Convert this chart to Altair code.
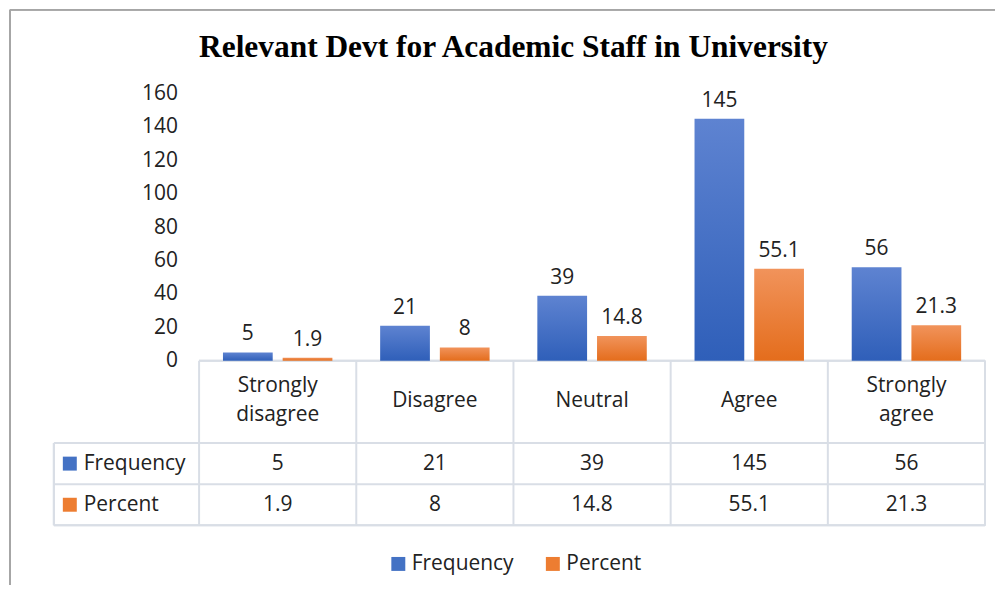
import altair as alt
import pandas as pd

# ---------------- data ----------------
CATS = ["Strongly disagree", "Disagree", "Neutral", "Agree", "Strongly agree"]
SERIES = ["Frequency", "Percent"]
FREQUENCY = [5, 21, 39, 145, 56]
PERCENT = [1.9, 8, 14.8, 55.1, 21.3]
Y_TICKS = [0, 20, 40, 60, 80, 100, 120, 140, 160]
TITLE = "Relevant Devt for Academic Staff in University"

ROWHEAD = "rowhead"          # left column of the data table
ROWS = ["h1", "h2"] + SERIES  # two bands for the header row, then the data rows

long_df = pd.DataFrame({
    "cat": CATS * 2,
    "series": ["Frequency"] * len(CATS) + ["Percent"] * len(CATS),
    "value": FREQUENCY + PERCENT,
})
cats_df = pd.DataFrame({"cat": CATS})
series_df = pd.DataFrame({"series": SERIES})

# ---------------- style ----------------
W, H = 934, 433
BAR_H = 268
FONT = "Open Sans"
TEXT = "#222222"
GRID = "#d9dee6"
FRAME = "#a6a6a6"
BLUE, ORANGE = "#4472C4", "#ED7D31"
FS = 21


def grad(top, bottom):
    return alt.Gradient(
        gradient="linear", x1=0, x2=0, y1=0, y2=1,
        stops=[alt.GradientStop(color=top, offset=0),
               alt.GradientStop(color=bottom, offset=1)],
    )


x_scale = alt.Scale(domain=[ROWHEAD] + CATS, range=[-12, W], paddingInner=0, paddingOuter=0)
xo_scale = alt.Scale(domain=SERIES, paddingInner=1 / 6, paddingOuter=0.4)
y_scale = alt.Scale(domain=[0, 160], range=[BAR_H, 0], nice=False, zero=True)
row_scale = alt.Scale(domain=ROWS, range=[BAR_H, H], paddingInner=0, paddingOuter=0)

X_CAT = alt.X("cat:N", scale=x_scale, axis=None)
XO = alt.XOffset("series:N", scale=xo_scale)

# ---------------- bars ----------------
bars_f = alt.Chart(long_df).transform_filter(alt.datum.series == "Frequency").mark_bar(
    color=grad("#5e83d1", "#2f5fb9")
).encode(
    x=X_CAT, xOffset=XO,
    y=alt.Y("value:Q", scale=y_scale, stack=None,
            axis=alt.Axis(values=Y_TICKS, offset=-146, domain=False, ticks=False, grid=False,
                          labelPadding=22, labelFont=FONT, labelFontSize=FS,
                          labelColor=TEXT, title=None)),
)
bars_p = alt.Chart(long_df).transform_filter(alt.datum.series == "Percent").mark_bar(
    color=grad("#f1935b", "#e46d1c")
).encode(
    x=X_CAT, xOffset=XO,
    y=alt.Y("value:Q", scale=y_scale, stack=None, axis=None),
)
bar_labels = alt.Chart(long_df).mark_text(
    baseline="alphabetic", dy=-12, font=FONT, fontSize=FS, color=TEXT
).encode(
    x=X_CAT, xOffset=XO,
    y=alt.Y("value:Q", scale=y_scale, stack=None, axis=None),
    text=alt.Text("value:Q", format="~g"),
)

# ---------------- data table ----------------
two_line = "indexof(datum.cat, ' ') >= 0"
header_two = alt.Chart(cats_df).transform_filter(two_line).mark_text(
    lineBreak=" ", lineHeight=29, font=FONT, fontSize=FS, color=TEXT, baseline="middle", dy=5
).encode(
    x=X_CAT,
    y=alt.YDatum("h1", type="nominal", scale=row_scale, axis=None),
    text="cat:N",
)
header_one = alt.Chart(cats_df).transform_filter("!(" + two_line + ")").mark_text(
    font=FONT, fontSize=FS, color=TEXT, baseline="middle", dy=20
).encode(
    x=X_CAT,
    y=alt.YDatum("h1", type="nominal", scale=row_scale, axis=None),
    text="cat:N",
)
value_txt = alt.Chart(long_df).mark_text(
    font=FONT, fontSize=FS, color=TEXT, baseline="middle"
).encode(
    x=X_CAT,
    y=alt.Y("series:N", scale=row_scale, axis=None),
    text=alt.Text("value:Q", format="~g"),
)
row_squares = alt.Chart(series_df).mark_point(
    shape="square", filled=True, size=196, opacity=1, xOffset=28
).encode(
    x=alt.XDatum(ROWHEAD, type="nominal", scale=x_scale, axis=None, bandPosition=0),
    y=alt.Y("series:N", scale=row_scale, axis=None),
    color=alt.Color(
        "series:N",
        scale=alt.Scale(domain=SERIES, range=[BLUE, ORANGE]),
        legend=alt.Legend(
            title=None, orient="none", direction="horizontal", legendX=335, legendY=461,
            symbolType="square", symbolSize=196, symbolStrokeWidth=0,
            labelFont=FONT, labelFontSize=FS, labelColor=TEXT, labelOffset=3,
            columnPadding=28, padding=0,
        ),
    ),
)
row_txt = alt.Chart(series_df).mark_text(
    align="left", baseline="middle", dx=42, font=FONT, fontSize=FS, color=TEXT
).encode(
    x=alt.XDatum(ROWHEAD, type="nominal", scale=x_scale, axis=None, bandPosition=0),
    y=alt.Y("series:N", scale=row_scale, axis=None),
    text="series:N",
)

# grid lines of the table
h_rows = alt.Chart(series_df).mark_rule(color=GRID, strokeWidth=2).encode(
    y=alt.Y("series:N", scale=row_scale, axis=None, bandPosition=0),
)
h_bottom = alt.Chart(series_df).mark_rule(color=GRID, strokeWidth=2).encode(
    y=alt.YDatum("Percent", type="nominal", scale=row_scale, axis=None, bandPosition=1),
)
h_top = alt.Chart(series_df).mark_rule(color=GRID, strokeWidth=2).encode(
    x=alt.XDatum(CATS[0], type="nominal", scale=x_scale, axis=None, bandPosition=0),
    x2=alt.value("width"),
    y=alt.YDatum("h1", type="nominal", scale=row_scale, axis=None, bandPosition=0),
)
v_cols = alt.Chart(cats_df).mark_rule(color=GRID, strokeWidth=2).encode(
    x=alt.X("cat:N", scale=x_scale, axis=None, bandPosition=0),
    y=alt.YDatum("h1", type="nominal", scale=row_scale, axis=None, bandPosition=0),
    y2=alt.value("height"),
)
v_right = alt.Chart(cats_df).mark_rule(color=GRID, strokeWidth=2).encode(
    x=alt.XDatum(CATS[-1], type="nominal", scale=x_scale, axis=None, bandPosition=1),
    y=alt.YDatum("h1", type="nominal", scale=row_scale, axis=None, bandPosition=0),
    y2=alt.value("height"),
)
v_left = alt.Chart(series_df).mark_rule(color=GRID, strokeWidth=2).encode(
    x=alt.value(0),
    y=alt.YDatum("Frequency", type="nominal", scale=row_scale, axis=None, bandPosition=0),
    y2=alt.value("height"),
)

# outer chart frame (left and top edges, as in the cropped reference)
frame_left = alt.Chart(series_df).mark_rule(color=FRAME, strokeWidth=2).encode(
    x=alt.value(-44), y=alt.value(-84), y2=alt.value(H + 60),
)
frame_top = alt.Chart(series_df).mark_rule(color=FRAME, strokeWidth=2).encode(
    x=alt.value(-44), x2=alt.value(W + 10), y=alt.value(-84),
)

chart = alt.layer(
    frame_left, frame_top,
    h_rows, h_bottom, h_top, v_cols, v_right, v_left,
    bars_f, bars_p, bar_labels,
    header_two, header_one, value_txt, row_squares, row_txt,
).resolve_scale(
    y="independent"
).properties(
    width=W,
    height=H,
    autosize=alt.AutoSizeParams(type="none"),
    padding={"left": 46, "top": 85, "right": 10, "bottom": 60},
    background="white",
    title=alt.TitleParams(
        TITLE, font="Liberation Serif", fontSize=31.5, fontWeight="bold", color="#000000",
        anchor="middle", dx=-6, offset=20, dy=75,
    ),
).configure_view(stroke=None)

chart.save("out.html", embed_options={"renderer": "svg", "actions": False})
